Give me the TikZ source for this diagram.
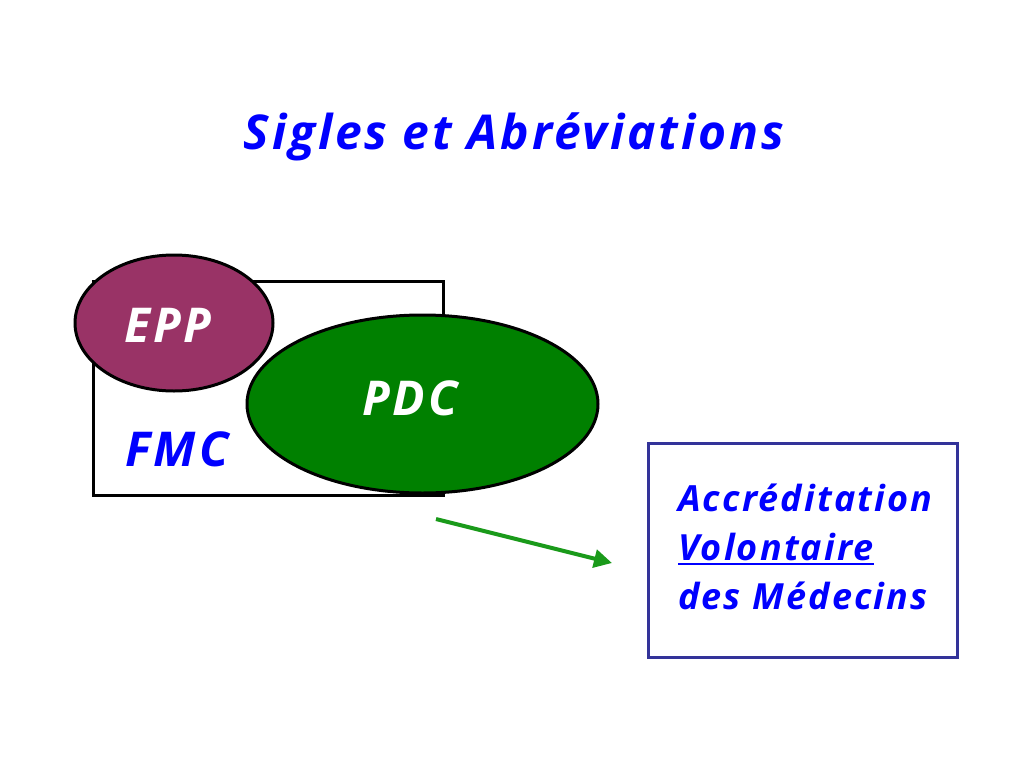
\documentclass[tikz,border=0pt]{standalone}
\usepackage{fontspec}
\setmainfont{Open Sans}[LetterSpace=6]
\usetikzlibrary{arrows.meta,shapes.geometric}
\definecolor{eppfill}{HTML}{993366}
\definecolor{pdcfill}{HTML}{008000}
\definecolor{arrowgreen}{HTML}{1A9A1A}
\definecolor{boxblue}{HTML}{333399}
\definecolor{txtblue}{HTML}{0000FF}
\tikzset{
  bigtxt/.style={font=\fontsize{48}{56}\selectfont\bfseries\itshape, inner sep=0pt},
  smalltxt/.style={font=\fontsize{36}{42}\selectfont\bfseries\itshape, text=txtblue, inner sep=0pt, anchor=base west},
  blob/.style={ellipse, draw=black, line width=3pt, inner sep=0pt},
}
\begin{document}
\begin{tikzpicture}[x=1pt,y=-1pt]
\useasboundingbox (0,0) rectangle (1024,768);
\fill[white] (0,0) rectangle (1024,768);
% title
\node[bigtxt, text=txtblue] (title) at (514,137) {Sigles et Abréviations};
% FMC frame
\draw[line width=3pt] (93,281) rectangle (443,495);
\node[bigtxt, text=txtblue] (fmc) at (177,449) {FMC};
% EPP
\node[blob, fill=eppfill, minimum width=198pt, minimum height=136pt] (epp) at (174,323) {};
\node[bigtxt, text=white] (epptxt) at (168,325) {EPP};
% PDC
\node[blob, fill=pdcfill, minimum width=351pt, minimum height=178pt] (pdc) at (422.5,404) {};
\node[bigtxt, text=white] (pdctxt) at (410,398) {PDC};
% box
\node[draw=boxblue, line width=3pt, minimum width=309pt, minimum height=214pt, inner sep=0pt] (acc) at (802.5,550) {};
\node[smalltxt] (l1) at (678,511) {Accréditation};
\node[smalltxt] (l2) at (678,560) {Volontaire};
\node[smalltxt] (l3) at (678,609) {des Médecins};
\draw[txtblue, line width=2pt] ([yshift=-4pt]l2.base west) -- ([yshift=-4pt]l2.base east);
% arrow
\coordinate (a1) at (436,519);
\coordinate (a2) at (612,563);
\draw[arrowgreen, line width=4pt, -{Triangle[length=18pt,width=18pt]}] (a1) -- (a2);
\end{tikzpicture}
\end{document}
